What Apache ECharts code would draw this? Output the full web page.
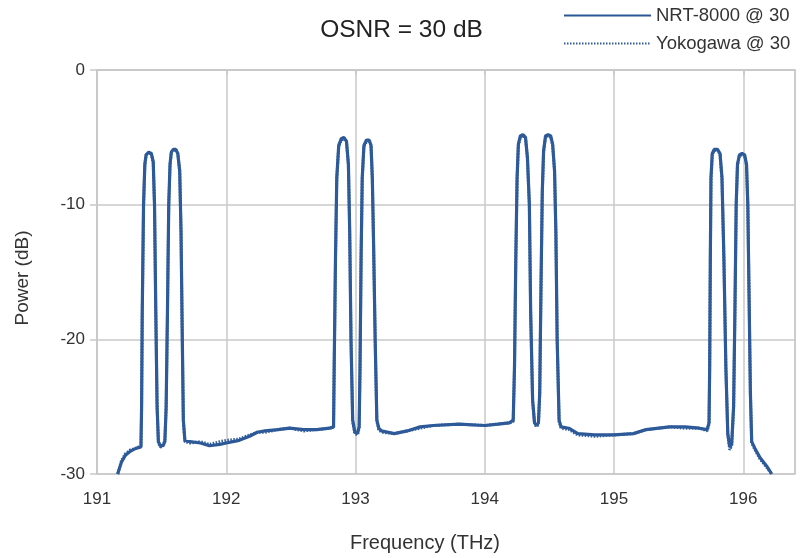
<!DOCTYPE html>
<html>
<head>
<meta charset="utf-8">
<script src="https://cdn.jsdelivr.net/npm/echarts@6/dist/echarts.min.js"></script>
<style>
  html, body { margin: 0; padding: 0; background: #fff; }
  #chart { width: 803px; height: 558px; }
</style>
</head>
<body>
<div id="chart"></div>
<script>
// 频率 (THz)
const freq = [
  191.16, 191.19, 191.22, 191.26, 191.30, 191.34, 191.345, 191.35, 191.36, 191.37,
  191.38, 191.40, 191.42, 191.435, 191.445, 191.455, 191.465, 191.475, 191.49, 191.51,
  191.525, 191.535, 191.545, 191.555, 191.565, 191.575, 191.59, 191.61, 191.625, 191.64,
  191.65, 191.66, 191.668, 191.68, 191.72, 191.80, 191.87, 191.95, 192.00, 192.10,
  192.18, 192.24, 192.30, 192.40, 192.49, 192.60, 192.70, 192.80, 192.83, 192.835,
  192.845, 192.855, 192.87, 192.89, 192.91, 192.93, 192.945, 192.955, 192.965, 192.978,
  192.995, 193.015, 193.028, 193.035, 193.043, 193.052, 193.065, 193.085, 193.105, 193.12,
  193.13, 193.14, 193.152, 193.165, 193.18, 193.20, 193.30, 193.40, 193.50, 193.60,
  193.80, 194.00, 194.10, 194.19, 194.22, 194.23, 194.24, 194.25, 194.26, 194.275,
  194.295, 194.315, 194.33, 194.345, 194.355, 194.37, 194.385, 194.40, 194.415, 194.425,
  194.435, 194.445, 194.455, 194.47, 194.49, 194.51, 194.525, 194.54, 194.55, 194.56,
  194.575, 194.59, 194.65, 194.72, 194.85, 195.00, 195.15, 195.25, 195.43, 195.55,
  195.66, 195.72, 195.735, 195.74, 195.745, 195.75, 195.76, 195.775, 195.80, 195.82,
  195.835, 195.85, 195.865, 195.88, 195.895, 195.91, 195.925, 195.935, 195.945, 195.955,
  195.97, 195.99, 196.01, 196.025, 196.035, 196.045, 196.055, 196.065, 196.09, 196.13,
  196.18, 196.22
];

// NRT-8000 功率 (dB)
const nrtPower = [
  -30.0, -29.1, -28.6, -28.3, -28.1, -28.0, -25.0, -18.0, -10.0, -7.0,
  -6.3, -6.1, -6.2, -6.8, -10.0, -18.0, -25.0, -27.6, -27.9, -27.9,
  -27.6, -25.0, -18.0, -10.0, -7.0, -6.1, -5.9, -5.9, -6.2, -7.5,
  -12.0, -20.0, -26.0, -27.5, -27.6, -27.7, -27.9, -27.8, -27.7, -27.5,
  -27.2, -26.9, -26.8, -26.7, -26.6, -26.7, -26.7, -26.6, -26.5, -22.0,
  -14.0, -8.0, -5.6, -5.1, -5.0, -5.3, -7.0, -12.0, -20.0, -26.0,
  -26.9, -27.0, -26.5, -22.0, -14.0, -8.0, -5.6, -5.2, -5.2, -5.6,
  -8.0, -13.0, -20.0, -26.0, -26.6, -26.8, -27.0, -26.8, -26.5, -26.4,
  -26.3, -26.4, -26.3, -26.2, -26.0, -22.0, -14.0, -8.0, -5.5, -4.9,
  -4.8, -5.0, -6.5, -10.0, -18.0, -24.5, -26.2, -26.4, -26.2, -24.0,
  -16.0, -9.0, -6.0, -4.9, -4.8, -4.9, -5.5, -7.5, -12.0, -20.0,
  -26.0, -26.5, -26.6, -27.0, -27.1, -27.1, -27.0, -26.7, -26.5, -26.5,
  -26.6, -26.7, -26.2, -22.0, -14.0, -8.0, -6.2, -5.9, -5.9, -6.2,
  -8.0, -14.0, -22.0, -27.0, -28.0, -27.8, -25.0, -18.0, -10.0, -7.0,
  -6.3, -6.2, -6.3, -7.0, -10.0, -17.0, -24.0, -27.6, -28.1, -28.8,
  -29.4, -30.0
];

// Yokogawa 功率 (dB)
const yokoPower = [
  -30.0, -29.0, -28.5, -28.2, -28.1, -27.9, -25.2, -18.3, -10.2, -7.1,
  -6.3, -6.2, -6.2, -6.9, -10.1, -18.2, -25.1, -27.7, -28.0, -27.9,
  -27.5, -25.1, -18.1, -10.1, -7.1, -6.1, -6.0, -5.9, -6.2, -7.6,
  -12.1, -20.1, -26.1, -27.6, -27.7, -27.6, -27.8, -27.6, -27.5, -27.4,
  -27.1, -26.9, -26.9, -26.7, -26.6, -26.8, -26.7, -26.6, -26.5, -22.1,
  -14.1, -8.1, -5.7, -5.2, -5.1, -5.3, -7.1, -12.1, -20.1, -26.1,
  -27.0, -27.1, -26.6, -22.1, -14.1, -8.1, -5.7, -5.3, -5.2, -5.6,
  -8.1, -13.1, -20.1, -26.1, -26.7, -26.9, -27.0, -26.8, -26.6, -26.4,
  -26.3, -26.4, -26.3, -26.2, -26.1, -22.1, -14.1, -8.1, -5.6, -5.0,
  -4.9, -5.0, -6.6, -10.1, -18.1, -24.6, -26.3, -26.5, -26.3, -24.1,
  -16.1, -9.1, -6.1, -5.0, -4.9, -5.0, -5.6, -7.6, -12.1, -20.1,
  -26.1, -26.6, -26.7, -27.1, -27.2, -27.1, -27.0, -26.7, -26.5, -26.6,
  -26.6, -26.8, -26.3, -22.1, -14.1, -8.1, -6.3, -6.0, -5.9, -6.3,
  -8.1, -14.1, -22.1, -27.1, -28.2, -27.9, -25.1, -18.1, -10.1, -7.1,
  -6.4, -6.3, -6.3, -7.1, -10.1, -17.1, -24.1, -27.7, -28.2, -28.9,
  -29.5, -30.0
];

const yTicks = [0, -10, -20, -30];

const chart = echarts.init(document.getElementById('chart'));

const lineColor = '#2c5896';
const gridColor = '#c8c8c8';
const textColor = '#333';

const option = {
  animation: false,
  title: {
    text: 'OSNR = 30 dB',
    left: 'center',
    top: 13,
    textStyle: { fontFamily: 'Liberation Sans', fontSize: 24.5, fontWeight: 'normal', color: '#222' }
  },
  legend: {
    orient: 'vertical',
    left: 563,
    top: 6,
    padding: 0,
    itemWidth: 87,
    itemHeight: 20,
    itemGap: 9,
    // 只画线，不画圆点
    itemStyle: { color: 'transparent', borderColor: 'transparent', borderWidth: 0 },
    textStyle: { fontFamily: 'Liberation Sans', fontSize: 18.5, color: textColor },
    data: ['NRT-8000 @ 30', 'Yokogawa @ 30']
  },
  grid: {
    left: 97,
    right: 8,
    top: 70,
    bottom: 80,
    show: true,
    borderColor: gridColor,
    borderWidth: 1.5,
    backgroundColor: 'transparent'
  },
  xAxis: {
    type: 'value',
    min: 191,
    max: 196.4,
    interval: 1,
    name: 'Frequency (THz)',
    nameLocation: 'middle',
    nameGap: 59,
    nameTextStyle: { fontFamily: 'Liberation Sans', fontSize: 20, color: textColor, padding: [0, 42, 0, 0] },
    axisLine: { show: true, lineStyle: { color: gridColor, width: 1.5 } },
    axisTick: { show: true, length: 5, lineStyle: { color: gridColor, width: 1.5 } },
    axisLabel: { fontFamily: 'Liberation Sans', fontSize: 17, color: textColor, margin: 17, showMaxLabel: false },
    splitLine: { show: true, lineStyle: { color: gridColor, width: 1.5 } }
  },
  yAxis: {
    type: 'value',
    min: -30,
    max: 0,
    interval: 10,
    name: 'Power (dB)',
    nameLocation: 'middle',
    nameGap: 65,
    nameTextStyle: { fontFamily: 'Liberation Sans', fontSize: 19, color: textColor, padding: [0, 12, 0, 0] },
    axisLine: { show: true, lineStyle: { color: gridColor, width: 1.5 } },
    axisTick: { show: true, length: 7, lineStyle: { color: gridColor, width: 1.5 } },
    axisLabel: {
      fontFamily: 'Liberation Sans', fontSize: 17, color: textColor, margin: 12,
      formatter: v => (yTicks.indexOf(v) >= 0 ? String(v) : '')
    },
    splitLine: { show: true, lineStyle: { color: gridColor, width: 1.5 } }
  },
  series: [
    {
      name: 'NRT-8000 @ 30',
      type: 'line',
      symbol: 'none',
      color: lineColor,
      lineStyle: { color: lineColor, width: 3.2 },
      data: freq.map((f, i) => [f, nrtPower[i]])
    },
    {
      name: 'Yokogawa @ 30',
      type: 'line',
      symbol: 'none',
      color: '#2f5c9c',
      lineStyle: { color: '#2f5c9c', width: 3, type: [1.5, 1.5] },
      data: freq.map((f, i) => [f, yokoPower[i]])
    }
  ]
};

chart.setOption(option);
</script>
</body>
</html>
